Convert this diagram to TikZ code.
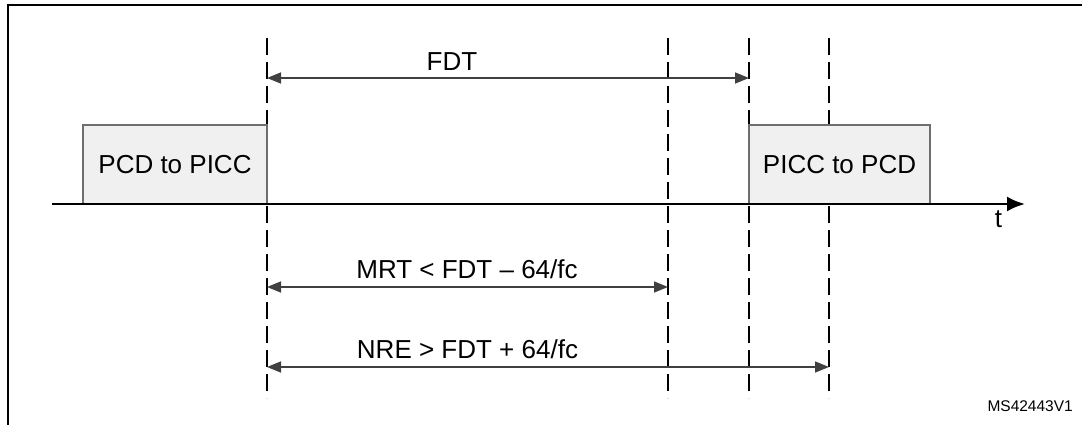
\documentclass[tikz,border=0pt]{standalone}
\usepackage{fontspec}
\setmainfont{Liberation Sans}
\usetikzlibrary{arrows.meta}
\definecolor{dimgray}{HTML}{404040}
\definecolor{boxgray}{HTML}{6E6E6E}
\definecolor{boxfill}{HTML}{F0F0F0}
\begin{document}
\begin{tikzpicture}[x=1pt,y=-1pt,
  dimline/.style={draw=dimgray, line width=1.5pt, {Triangle[length=14pt,width=11pt]}-{Triangle[length=14pt,width=11pt]}},
  guide/.style={draw=black, line width=2pt, dash pattern=on 17pt off 7pt},
  msg/.style={draw=boxgray, fill=boxfill, line width=1.5pt, minimum height=79pt, inner sep=0pt, font=\fontsize{26}{30}\selectfont},
  lbl/.style={font=\fontsize{26}{30}\selectfont, inner sep=0pt, anchor=base},
  axisline/.style={draw=black, line width=2.5pt, -{Latex[length=18pt,width=15pt]}},
  frameline/.style={draw=black, line width=2.5pt}
]
\useasboundingbox (0,0) rectangle (1082,425);
% frame
\coordinate (fa) at (8,425);
\coordinate (fb) at (8,5);
\coordinate (fc) at (1082,5);
\draw[frameline] (fa) -- (fb) -- (fc);
% guide lines
\foreach \n/\x in {g1/267,g2/668,g3/749,g4/829}{
  \coordinate (\n t) at (\x,38);
  \coordinate (\n b) at (\x,398);
  \draw[guide] (\n t) -- (\n b);
}
% message boxes
\node[msg, minimum width=184pt] (pcd) at (175,164.5) {PCD to PICC};
\node[msg, minimum width=181pt] (picc) at (839.5,164.5) {PICC to PCD};
% time axis
\coordinate (ax0) at (52,204);
\coordinate (ax1) at (1025,204);
\draw[axisline] (ax0) -- (ax1);
\node[lbl] (t) at (998.5,227) {t};
% dimension arrows
\coordinate (fdtA) at (267,78);
\coordinate (fdtB) at (749,78);
\draw[dimline] (fdtA) -- (fdtB);
\node[lbl] (fdt) at (452,71) {FDT};
\coordinate (mrtA) at (267,287);
\coordinate (mrtB) at (668,287);
\draw[dimline] (mrtA) -- (mrtB);
\node[lbl] (mrt) at (467,278) {MRT < FDT – 64/fc};
\coordinate (nreA) at (267,367);
\coordinate (nreB) at (829,367);
\draw[dimline] (nreA) -- (nreB);
\node[lbl] (nre) at (467.5,358) {NRE > FDT + 64/fc};
% figure id
\node[font=\fontsize{15.5}{18}\selectfont, inner sep=0pt, anchor=base east] (id) at (1073,411) {MS42443V1};
\end{tikzpicture}
\end{document}
